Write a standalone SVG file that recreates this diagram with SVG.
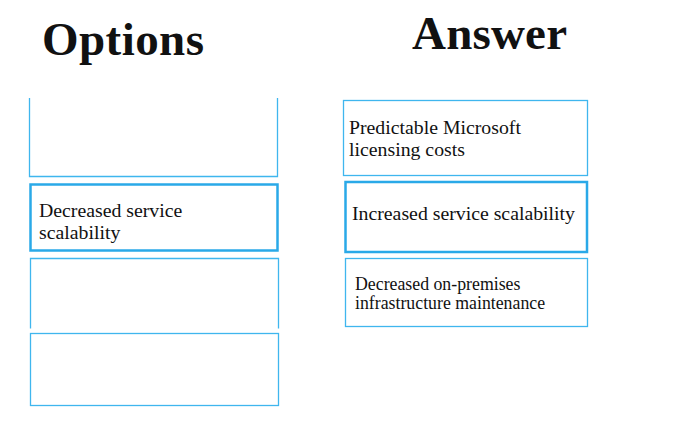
<svg xmlns="http://www.w3.org/2000/svg" width="692" height="426" viewBox="0 0 692 426">
<style>
.h{font-family:"Liberation Serif",serif;font-weight:bold;font-size:47px;fill:#111}
.t{font-family:"Liberation Serif",serif;font-size:19.8px;fill:#111}
.s{font-family:"Liberation Serif",serif;font-size:17.8px;fill:#111}
.b{fill:#fff;stroke:#3fb6ee;stroke-width:1.3}
.bt{fill:#fff;stroke:#2aa9e8;stroke-width:2.5}
</style>
<rect width="692" height="426" fill="#fff"/>
<text class="h" x="42" y="55" textLength="162">Options</text>
<text class="h" x="412" y="49" textLength="155">Answer</text>
<g id="opt1"><path class="b" d="M29.5 98 V176.5 H277.5 V98"/></g>
<g id="opt2"><rect class="bt" x="30.5" y="184.5" width="247" height="66"/><text class="t" x="39" y="217">Decreased service</text><text class="t" x="39" y="239">scalability</text></g>
<g id="opt3"><path class="b" d="M30.5 328.5 V258.5 H278.5 V328.5"/></g>
<g id="opt4"><rect class="b" x="30.5" y="333.5" width="248" height="72"/></g>
<g id="ans1"><rect class="b" x="343.5" y="100.5" width="244" height="75"/><text class="t" x="349" y="134">Predictable Microsoft</text><text class="t" x="349" y="156">licensing costs</text></g>
<g id="ans2"><rect class="bt" x="345.5" y="182" width="241.5" height="70"/><text class="t" x="352" y="220">Increased service scalability</text></g>
<g id="ans3"><rect class="b" x="345.5" y="258.5" width="242" height="68"/><text class="s" x="355" y="290">Decreased on-premises</text><text class="s" x="355" y="309">infrastructure maintenance</text></g>
<g id="connectors"/>
</svg>
